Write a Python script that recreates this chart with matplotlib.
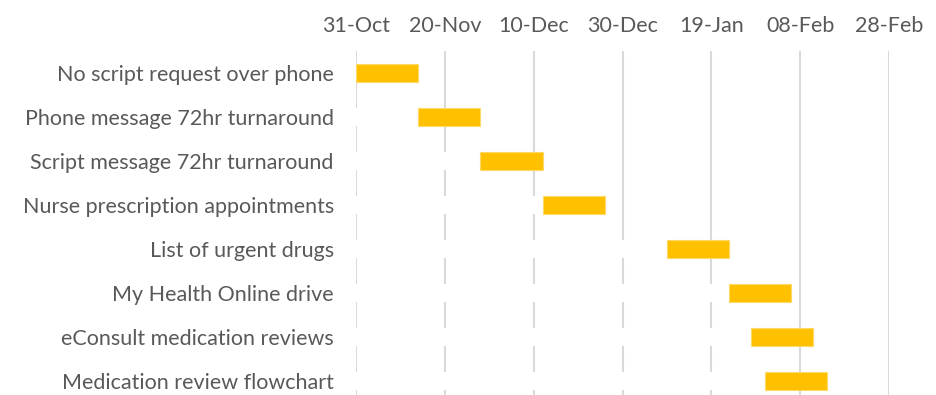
import matplotlib.pyplot as plt
import matplotlib.dates as mdates
import numpy as np
import datetime as dt

tasks = ["No script request over phone",
         "Phone message 72hr turnaround",
         "Script message 72hr turnaround",
         "Nurse prescription appointments",
         "List of urgent drugs",
         "My Health Online drive",
         "eConsult medication reviews",
         "Medication review flowchart"]
start_dates = ["2019-10-31", "2019-11-14", "2019-11-28", "2019-12-12",
               "2020-01-09", "2020-01-23", "2020-01-28", "2020-01-31"]
durations = [14, 14, 14, 14, 14, 14, 14, 14]
tick_dates = ["2019-10-31", "2019-11-20", "2019-12-10", "2019-12-30",
              "2020-01-19", "2020-02-08", "2020-02-28"]

plt.rcParams['font.family'] = ['Lato', 'DejaVu Sans']

fig = plt.figure(figsize=(9.36, 3.95), dpi=100)
W, H = 936, 395
ax = fig.add_axes([356 / W, (395 - 403) / H, (889 - 356) / W, (403 - 51) / H])

x0 = mdates.date2num(dt.date(2019, 10, 31))
starts = np.array([mdates.date2num(dt.date.fromisoformat(s)) for s in start_dates])
y = np.arange(len(tasks))

# invisible (white) offset bars like the Excel stacked-bar trick
ax.barh(y, starts - x0, left=x0, height=0.41, color='white', zorder=2)
ax.barh(y, durations, left=starts, height=0.41, color='#FFC000',
        edgecolor='#FFD966', linewidth=0.8, zorder=3)

ticks = [mdates.date2num(dt.date.fromisoformat(d)) for d in tick_dates]
ax.set_xticks(ticks)
ax.set_xticklabels([dt.date.fromisoformat(d).strftime('%d-%b') for d in tick_dates])
ax.set_xlim(ticks[0], ticks[-1])
ax.xaxis.tick_top()
ax.grid(axis='x', color='#D9D9D9', linewidth=1.5, zorder=0)
ax.set_axisbelow(True)

ax.set_yticks(y)
ax.set_yticklabels(tasks)
ax.set_ylim(len(tasks) - 0.5, -0.5)

for s in ax.spines.values():
    s.set_visible(False)
ax.tick_params(axis='both', length=0, labelsize=15.5, labelcolor='#595959')
ax.tick_params(axis='x', pad=11)
ax.tick_params(axis='y', pad=16)

fig.savefig('out.png', dpi=100)
